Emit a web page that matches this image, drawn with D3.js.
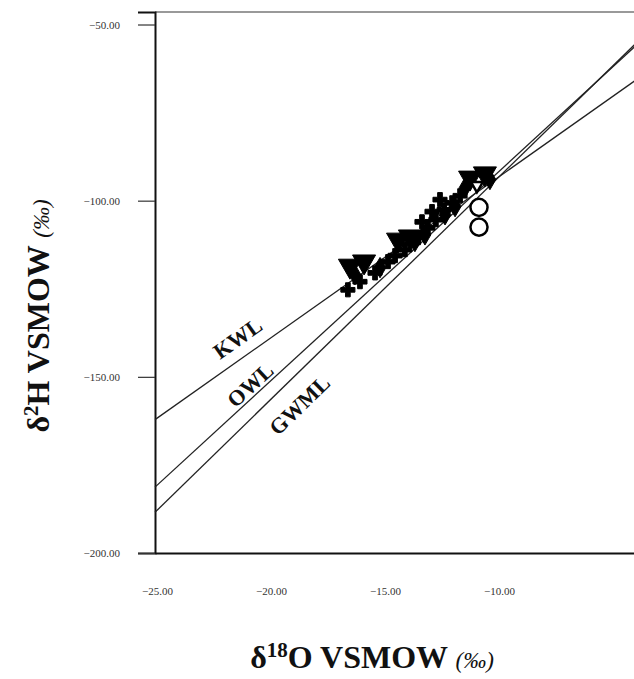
<!DOCTYPE html>
<html>
<head>
<meta charset="utf-8">
<script src="https://cdn.jsdelivr.net/npm/d3@7"></script>
<style>
	body { margin: 0; background: #fff; }
	svg { display: block; }
	.tick text { font-family: 'Liberation Serif', serif; font-size: 11px; fill: #333; }
</style>
</head>
<body>
<div id="chart"></div>
<script>
'use strict';

// ticks
var xTicks = [-25, -20, -15, -10];
var yTicks = [-200, -150, -100, -50];

// water lines: dD = slope * d18O + intercept
var lineNames = ['KWL', 'OWL', 'GWML'];
var lineSlopes = [4.57, 5.94, 6.31];
var lineIntercepts = [-47.9, -32.8, -30.7];
var labelAt = [-20.9, -20.5, -19.4];

// samples
var triX = [-16.45, -15.83, -14.34, -13.82, -11.18, -10.53];
var triY = [-118.5, -117.3, -111.1, -110.2, -93.5, -92.3];
var crossX = [-16.54, -16.01, -15.35, -14.78, -14.47, -14.04, -13.46, -13.03, -12.68, -12.32, -11.97, -11.62, -12.50, -12.85, -13.29];
var crossY = [-125.3, -123.0, -120.5, -117.3, -115.6, -113.9, -110.5, -107.7, -105.4, -102.6, -100.6, -98.6, -99.7, -103.1, -106.0];
var diamondX = [-16.23, -15.13, -13.60, -13.16, -12.28, -11.84, -11.40, -10.31];
var diamondY = [-121.0, -119.0, -111.6, -109.7, -104.0, -101.7, -96.3, -94.0];
var circleX = [-10.79, -10.79];
var circleY = [-101.9, -107.5];
var openTriX = [-10.88];
var openTriY = [-95.7];

var margin = { top: 12, left: 155, bottom: 126 };
var W = 634, H = 679;

var svg = d3.select('#chart').append('svg')
	.attr('width', W)
	.attr('height', H);

var x = d3.scaleLinear()
	.domain([-25, -3])
	.range([margin.left, margin.left + 22.8 * 22]);

var y = d3.scaleLinear()
	.domain([-200, -46.45])
	.range([H - margin.bottom, margin.top]);

var fmt = d3.format('.2f');

// frame
svg.append('line')
	.attr('x1', x(-25)).attr('x2', x(-3))
	.attr('y1', y(-46.45)).attr('y2', y(-46.45))
	.style('stroke', '#777').style('stroke-width', 1.5);

// y axis
var yAxis = svg.append('g')
	.attr('transform', 'translate(' + x(-25) + ',0)')
	.call(d3.axisLeft(y).tickValues(yTicks).tickFormat(fmt).tickSize(17).tickPadding(18));
yAxis.select('.domain').style('stroke', '#111').style('stroke-width', 2);
yAxis.selectAll('line').style('stroke', '#333').style('stroke-width', 1.2);

// x axis
var xAxis = svg.append('g')
	.attr('transform', 'translate(0,' + y(-200) + ')')
	.call(d3.axisBottom(x).tickValues(xTicks).tickFormat(fmt).tickSize(0).tickPadding(34));
xAxis.select('.domain').style('stroke', '#111').style('stroke-width', 2);
xAxis.selectAll('.tick text').attr('dx', '2');

// lines
var xEnd = -3.9;
lineNames.forEach(function(name, i) {
	var f = function(v) { return lineSlopes[i] * v + lineIntercepts[i]; };
	svg.append('line')
		.attr('x1', x(-25)).attr('y1', y(f(-25)))
		.attr('x2', x(xEnd)).attr('y2', y(f(xEnd)))
		.style('stroke', '#222').style('stroke-width', 1.3);
});

// line labels
var labelOffset = [-19, -11, 24];
lineNames.forEach(function(name, i) {
	var f = function(v) { return lineSlopes[i] * v + lineIntercepts[i]; };
	var lx = labelAt[i];
	var ang = Math.atan2(y(f(lx + 1)) - y(f(lx)), x(lx + 1) - x(lx)) * 180 / Math.PI;
	svg.append('text')
		.attr('transform', 'translate(' + x(lx) + ',' + y(f(lx)) + ') rotate(' + ang + ')')
		.attr('y', labelOffset[i])
		.attr('dy', '0.35em')
		.style('text-anchor', 'middle')
		.style('font-family', "'Liberation Serif', serif")
		.style('font-weight', 'bold')
		.style('font-size', '22px')
		.style('fill', '#111')
		.text(name);
});

// points
function drawPoints(xs, ys, type, size, filled, rot) {
	var sym = d3.symbol().type(type).size(size);
	svg.append('g').selectAll('path')
		.data(xs)
		.enter().append('path')
		.attr('d', sym)
		.attr('transform', function(d, i) {
			return 'translate(' + x(d) + ',' + y(ys[i]) + ') rotate(' + rot + ')';
		})
		.style('fill', filled ? '#000' : '#fff')
		.style('stroke', '#000')
		.style('stroke-width', filled ? 1 : 2.5);
}

drawPoints(crossX, crossY, d3.symbolCross, 110, true, 0);
drawPoints(diamondX, diamondY, d3.symbolDiamond, 120, true, 0);
drawPoints(triX, triY, d3.symbolTriangle, 230, true, 180);
drawPoints(circleX, circleY, d3.symbolCircle, 230, false, 0);
drawPoints(openTriX, openTriY, d3.symbolTriangle, 60, false, 180);

// axis titles
var yt = svg.append('text')
	.attr('transform', 'translate(49,316) rotate(-90)')
	.style('text-anchor', 'middle')
	.style('font-family', "'Liberation Serif', serif")
	.style('font-weight', 'bold')
	.style('font-size', '32px')
	.style('fill', '#111');
yt.append('tspan').text('δ');
yt.append('tspan').attr('dy', -11).style('font-size', '21px').text('2');
yt.append('tspan').attr('dy', 11).text('H VSMOW ');
yt.append('tspan').style('font-size', '23px').style('font-weight', 'normal').style('font-style', 'italic').text('(‰)');

var xt = svg.append('text')
	.attr('transform', 'translate(372,668)')
	.style('text-anchor', 'middle')
	.style('font-family', "'Liberation Serif', serif")
	.style('font-weight', 'bold')
	.style('font-size', '32px')
	.style('fill', '#111');
xt.append('tspan').text('δ');
xt.append('tspan').attr('dy', -11).style('font-size', '21px').text('18');
xt.append('tspan').attr('dy', 11).text('O VSMOW ');
xt.append('tspan').style('font-size', '23px').style('font-weight', 'normal').style('font-style', 'italic').text('(‰)');
</script>
</body>
</html>
